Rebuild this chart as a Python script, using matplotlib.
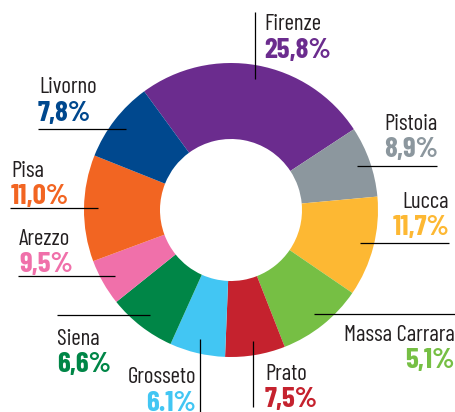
#!/usr/bin/env python3
"""Donut chart: share by province (Toscana)."""

import numpy as np
import matplotlib
matplotlib.use("Agg")
import matplotlib.pyplot as plt


# Provinces in drawing order, clockwise from the top-left of Firenze.
provinces = ["Firenze", "Pistoia", "Lucca", "Massa Carrara", "Prato",
             "Grosseto", "Siena", "Arezzo", "Pisa", "Livorno"]
# Printed values next to each name.
label_text = ["25,8%", "8,9%", "11,7%", "5,1%", "7,5%",
              "6.1%", "6,6%", "9,5%", "11,0%", "7,8%"]
# Slice sizes as drawn in the picture (measured from the wedge angles).
slice_share = [25.8, 7.8, 11.0, 9.5, 6.6, 6.1, 7.5, 5.1, 11.7, 8.9]

COLORS = ["#6b2c8e", "#8c979e", "#fdb833", "#76bf44", "#c5222e",
          "#42c6f3", "#008647", "#f070aa", "#f26522", "#00488e"]
INK = "#231f20"

W, H = 456, 412
CENTER = (231, H - 210)
R_OUT = 147
R_IN = 71
START = 126.2
LEADER_R = 133

# name anchor, percent anchor, alignment, leader: ("h", outer x) or ("v", outer y)
LAYOUT = {
    "Firenze": ((264, 382), (264, 354), "left", ("v", H - 12)),
    "Pistoia": ((438, 282), (438, 255), "right", ("h", 437)),
    "Lucca": ((449, 204), (449, 177), "right", ("h", 449)),
    "Massa Carrara": ((455, 71), (455, 44), "right", ("h", 456)),
    "Prato": ((265, 32), (265, 5), "left", ("v", 5)),
    "Grosseto": ((196, 29), (196, 1), "right", ("v", 0)),
    "Siena": ((57, 67), (57, 40), "left", ("h", 57)),
    "Arezzo": ((19, 167), (19, 140), "left", ("h", 18)),
    "Pisa": ((11, 235), (11, 208), "left", ("h", 10)),
    "Livorno": ((39, 319), (38, 291), "left", ("h", 38)),
}


def main() -> None:
    plt.rcParams["font.family"] = ["Barlow Condensed", "DejaVu Sans"]
    fig = plt.figure(figsize=(W / 100, H / 100), dpi=100)
    ax = fig.add_axes([0, 0, 1, 1])

    wedges, _ = ax.pie(
        slice_share,
        colors=COLORS,
        startangle=START,
        counterclock=False,
        radius=R_OUT,
        center=CENTER,
        wedgeprops={"width": R_OUT - R_IN, "edgecolor": "none", "linewidth": 0},
    )

    for wedge, name, pct, color in zip(wedges, provinces, label_text, COLORS):
        mid = np.deg2rad((wedge.theta1 + wedge.theta2) / 2)
        x0 = CENTER[0] + LEADER_R * np.cos(mid)
        y0 = CENTER[1] + LEADER_R * np.sin(mid)
        name_xy, pct_xy, ha, (kind, outer) = LAYOUT[name]
        if kind == "h":
            ax.plot([x0, outer], [y0, y0], color="black", lw=0.9,
                    solid_capstyle="butt", zorder=5)
        else:
            ax.plot([x0, x0], [y0, outer], color="black", lw=0.9,
                    solid_capstyle="butt", zorder=5)
        ax.text(*name_xy, name, ha=ha, va="baseline", fontsize=16.5, color=INK)
        ax.text(*pct_xy, pct, ha=ha, va="baseline", fontsize=21,
                fontweight="bold", color=color)

    ax.set_xlim(0, W)
    ax.set_ylim(0, H)
    ax.set_aspect("equal")
    ax.axis("off")
    fig.savefig("out.png", dpi=100)
    plt.close(fig)


if __name__ == "__main__":
    main()
